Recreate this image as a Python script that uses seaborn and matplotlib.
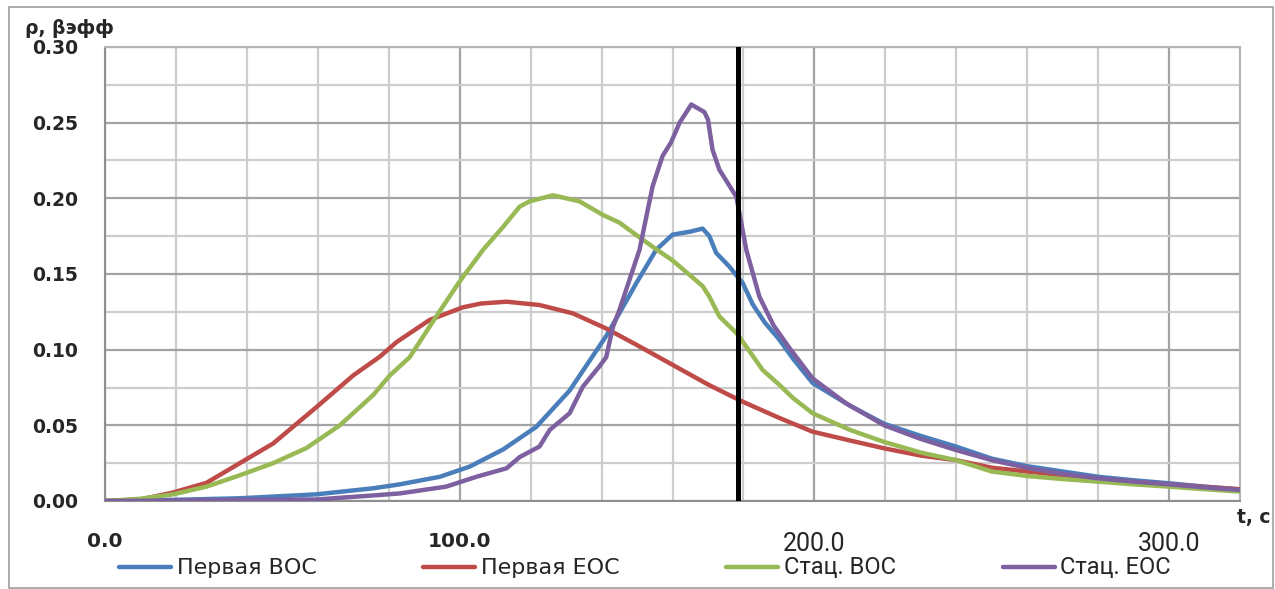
import matplotlib
matplotlib.use('Agg')
import matplotlib.pyplot as plt
import numpy as np
import pandas as pd
import seaborn as sns
from matplotlib.patches import Rectangle
from matplotlib.ticker import MultipleLocator

# Data
blue_t = [0, 20, 38, 59.6, 75.6, 83.1, 94.4, 102.8, 112.2, 121.6, 131, 141.3, 145, 149.8,
          155.4, 160, 165, 168.5, 170.4, 172.3, 176, 179.8, 182.6, 186, 190, 194, 199.5, 210,
          219.7, 230, 239.9, 250, 260, 270, 280, 290, 300, 310, 320]
blue_rho = [0, 0.0008, 0.0018, 0.0044, 0.0084, 0.011, 0.016, 0.0227, 0.034, 0.049, 0.073,
            0.109, 0.124, 0.144, 0.166, 0.176, 0.178, 0.180, 0.175, 0.164, 0.155, 0.144,
            0.130, 0.118, 0.107, 0.094, 0.078, 0.063, 0.051, 0.043, 0.036, 0.028, 0.023,
            0.0195, 0.016, 0.0137, 0.0117, 0.0095, 0.0076]

red_t = [0, 10, 19, 28.6, 38, 47.4, 59.6, 70, 77.5, 82.2, 91.5, 100.9, 106, 113.2, 122.5,
         131.9, 141.3, 150, 160, 170, 176, 179.8, 190, 199.5, 210, 219.7, 230, 239.9, 250,
         260, 270, 280, 290, 300, 310, 320]
red_rho = [0, 0.001, 0.0055, 0.012, 0.025, 0.038, 0.062, 0.083, 0.0954, 0.105, 0.1196, 0.128,
           0.1305, 0.1317, 0.1295, 0.124, 0.114, 0.103, 0.090, 0.077, 0.070, 0.0656, 0.055,
           0.0458, 0.040, 0.0348, 0.030, 0.027, 0.022, 0.0195, 0.017, 0.0145, 0.0125, 0.011,
           0.0093, 0.0078]

green_t = [0, 10, 19.2, 28.6, 38, 47.4, 56.8, 66.2, 75.6, 80.3, 85.9, 93.4, 99.1, 100.9,
           106.6, 112.2, 116.9, 119.7, 126.3, 133.8, 140.4, 145, 147.9, 154.4, 160, 168.5,
           170.4, 173.2, 178, 180.8, 185.4, 190, 194, 199.5, 210, 219.7, 230, 239.9, 250,
           260, 270, 280, 290, 300, 310, 320]
green_rho = [0, 0.0015, 0.0044, 0.0095, 0.017, 0.025, 0.035, 0.050, 0.070, 0.083, 0.095,
             0.122, 0.142, 0.148, 0.166, 0.181, 0.1945, 0.198, 0.202, 0.198, 0.189, 0.184,
             0.179, 0.168, 0.159, 0.142, 0.135, 0.122, 0.111, 0.102, 0.0866, 0.077, 0.068,
             0.058, 0.047, 0.039, 0.032, 0.027, 0.0195, 0.0165, 0.0145, 0.0128, 0.011,
             0.0095, 0.0078, 0.0062]

purple_t = [0, 20, 40, 59.6, 77.5, 83.1, 96.2, 104.7, 113.2, 116.9, 122.5, 125.4, 131, 134.7,
            139.4, 141.3, 143.2, 145, 150.7, 154.4, 157.2, 159.6, 162, 165.3, 167.5, 169, 170,
            171.3, 173.2, 178, 180.8, 184.5, 188.5, 193, 199.5, 208.9, 219.7, 230, 239.9, 250,
            260.6, 270, 280, 290, 300, 310, 320]
purple_rho = [0, 0.0003, 0.0008, 0.001, 0.004, 0.005, 0.0095, 0.016, 0.0216, 0.029, 0.036,
              0.047, 0.058, 0.0755, 0.089, 0.095, 0.115, 0.126, 0.166, 0.208, 0.228, 0.237,
              0.250, 0.262, 0.259, 0.257, 0.252, 0.232, 0.219, 0.201, 0.166, 0.135, 0.116,
              0.101, 0.081, 0.0646, 0.050, 0.041, 0.0337, 0.027, 0.0216, 0.018, 0.015, 0.0128,
              0.011, 0.009, 0.0073]

series_names = ['Первая ВОС', 'Первая ЕОС', 'Стац. ВОС', 'Стац. ЕОС']
series_colors = ['#4a7ebb', '#be4b48', '#98b954', '#7d60a0']
t_marker = 178.6

x_ticks = [0, 100, 200, 300]
x_ticklabels = ['0.0', '100.0', '200.0', '300.0']

df = pd.concat([
    pd.DataFrame({'t': blue_t, 'rho': blue_rho, 'series': series_names[0]}),
    pd.DataFrame({'t': red_t, 'rho': red_rho, 'series': series_names[1]}),
    pd.DataFrame({'t': green_t, 'rho': green_rho, 'series': series_names[2]}),
    pd.DataFrame({'t': purple_t, 'rho': purple_rho, 'series': series_names[3]}),
], ignore_index=True)

sns.set_theme(style='white')
plt.rcParams['font.family'] = ['DejaVu Sans']
narrow = ['Liberation Sans Narrow', 'Roboto', 'DejaVu Sans']

W, H = 1275, 589
fig = plt.figure(figsize=(W / 100, H / 100), dpi=100)
ax = fig.add_axes([105 / W, 1 - 501 / H, (1240 - 105) / W, (501 - 47) / H])

sns.lineplot(data=df, x='t', y='rho', hue='series', hue_order=series_names,
             palette=series_colors, sort=False, estimator=None, lw=3.2, ax=ax,
             legend=False, zorder=3)
ax.axvline(t_marker, color='black', lw=3.6, zorder=4)

ax.set_xlim(0, 320)
ax.set_ylim(0, 0.30)
ax.set_xticks(x_ticks, x_ticklabels)
ax.xaxis.set_minor_locator(MultipleLocator(20))
ax.yaxis.set_major_locator(MultipleLocator(0.05))
ax.yaxis.set_minor_locator(MultipleLocator(0.025))
ax.yaxis.set_major_formatter(matplotlib.ticker.FormatStrFormatter('%.2f'))
ax.set_xlabel('')
ax.set_ylabel('')

ax.set_axisbelow(True)
ax.grid(which='major', color='#a3a3a3', lw=1.6)
ax.grid(which='minor', color='#cdcdcd', lw=1.6)
for s in ax.spines.values():
    s.set_color('#8f8f8f')
    s.set_linewidth(1.5)
ax.spines['top'].set_color('#b5b5b5')
ax.spines['right'].set_color('#b5b5b5')

ax.tick_params(which='minor', length=0)
ax.tick_params(axis='y', which='major', length=5.8, width=1.3, color='#8f8f8f',
               pad=13.5, labelsize=13.5)
ax.tick_params(axis='x', which='major', length=5.2, width=1.3, color='#8f8f8f',
               pad=17, labelsize=14.5)
for lab in ax.get_yticklabels():
    lab.set_fontweight('bold')
for i, lab in enumerate(ax.get_xticklabels()):
    if i < 2:
        lab.set_fontweight('bold')
    else:
        lab.set_family(narrow)
        lab.set_fontsize(18)

fig.text(25 / W, 1 - 29 / H, 'ρ, βэфф', fontsize=13.5, fontweight='bold',
         ha='left', va='center')
fig.text(1237 / W, 1 - 517 / H, 't, c', fontsize=13.5, fontweight='bold',
         ha='left', va='center')

handles = ax.get_lines()[:4]
leg = fig.legend(handles, series_names, loc='center', bbox_to_anchor=(645 / W, 1 - 568 / H),
                 ncol=4, frameon=False, fontsize=16, handlelength=2.35,
                 handletextpad=0.25, columnspacing=4.8, borderpad=0)
for i, txt in enumerate(leg.get_texts()):
    if i >= 2:
        txt.set_family(narrow)
        txt.set_fontsize(17)

fig.patches.append(Rectangle((9 / W, 1 - 588 / H), (1273 - 9) / W, (588 - 7) / H,
                             transform=fig.transFigure, fill=False, ec='#a6a6a6', lw=1.3))

fig.savefig('out.png', dpi=100)
